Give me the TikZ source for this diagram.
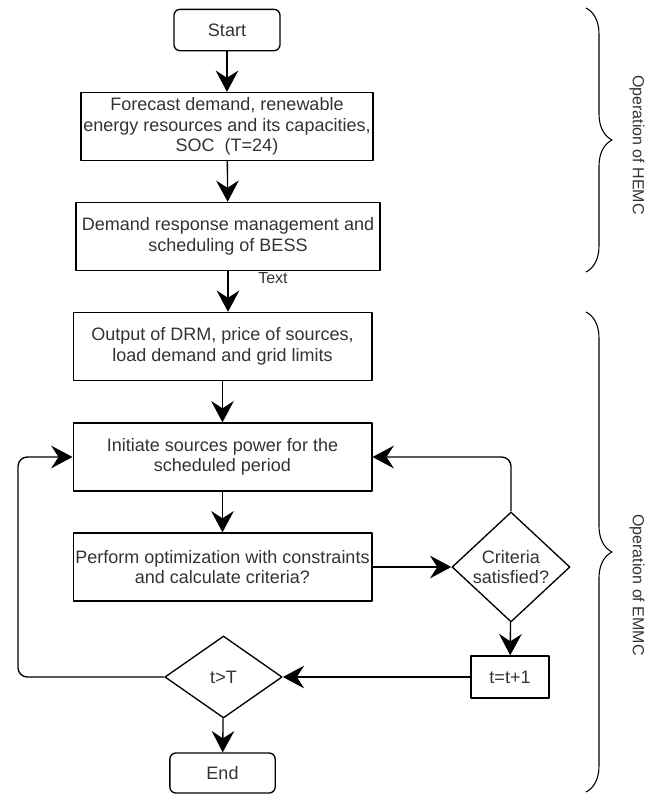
\documentclass[tikz,border=0pt]{standalone}
\usepackage{fontspec}
\setmainfont{Liberation Sans}
\usetikzlibrary{arrows.meta,shapes.geometric,decorations.pathreplacing}
\definecolor{ink}{HTML}{333333}

\begin{document}
\begin{tikzpicture}[x=0.75pt,y=-0.75pt,line join=round,
  txt/.style={text=ink,font=\fontsize{13.5}{15.5}\selectfont},
  box/.style={txt,draw=black,line width=1pt,align=center,inner sep=1pt,
    minimum width=#1,minimum height=51pt},
  term/.style={box=#1,rounded corners=4.5pt,minimum height=31pt},
  decide/.style={txt,draw=black,line width=1pt,diamond,align=center,
    inner sep=0pt,minimum width=#1},
  flow/.style={draw=black,line width=1pt,
    -{Stealth[length=16pt,width=17pt,inset=5.5pt]}},
  curly/.style={draw=black,line width=.8pt,decorate,
    decoration={brace,amplitude=19.5pt}},
  side/.style={text=ink,font=\fontsize{12}{14}\selectfont,rotate=-90}]
\useasboundingbox (0,0) rectangle (659,794);

% HEMC part
\node[term=79.5pt] (start) at (227,30) {Start};
\node[box=219pt] (forecast) at (227,126.5)
  {Forecast demand, renewable\\energy resources and its capacities,\\SOC~ (T=24)};
\node[box=228pt] (drm) at (228,236.5)
  {Demand response management and\\scheduling of BESS};
\node[text=ink,font=\fontsize{12}{14}\selectfont] (note) at (273,278) {Text};

% EMMC part
\node[box=224pt] (output) at (222.5,346.5)
  {Output of DRM, price of sources,\\load demand and grid limits};
\node[box=224pt] (initiate) at (222.5,457)
  {Initiate sources power for the\\scheduled period};
\node[box=224pt] (perform) at (222.5,567)
  {Perform optimization with constraints\\and calculate criteria?};
\node[decide=88.5pt,minimum height=80pt] (crit) at (511,567)
  {Criteria\\satisfied?};
\node[box=58.5pt,minimum height=31.5pt] (tinc) at (510,677) {t=t+1};
\node[decide=88pt,minimum height=61.5pt] (tcheck) at (223.5,677) {t>T};
\node[term=79pt,minimum height=30pt] (end) at (222.5,773) {End};
\coordinate (back) at (18,677);

% connectors
\draw[flow] (start) -- (forecast);
\draw[flow] (forecast) -- (drm);
\draw[flow] (drm.south) -- (drm.south |- output.north);
\draw[flow] (output) -- (initiate);
\draw[flow] (initiate) -- (perform);
\draw[flow] (perform) -- (crit);
\draw[flow,rounded corners=7pt] (crit.north) |- (initiate.east);
\draw[flow] (crit) -- (tinc);
\draw[flow] (tinc) -- (tcheck);
\draw[flow,rounded corners=7pt] (tcheck.west) -- (back) |- (initiate.west);
\draw[flow] (tcheck) -- (end);

% braces and their labels
\draw[curly] (586,8) -- (586,272);
\draw[curly] (586,312) -- (586,792);
\node[side] (hemc) at (637,145) {Operation of HEMC};
\node[side] (emmc) at (637,585) {Operation of EMMC};
\end{tikzpicture}
\end{document}
